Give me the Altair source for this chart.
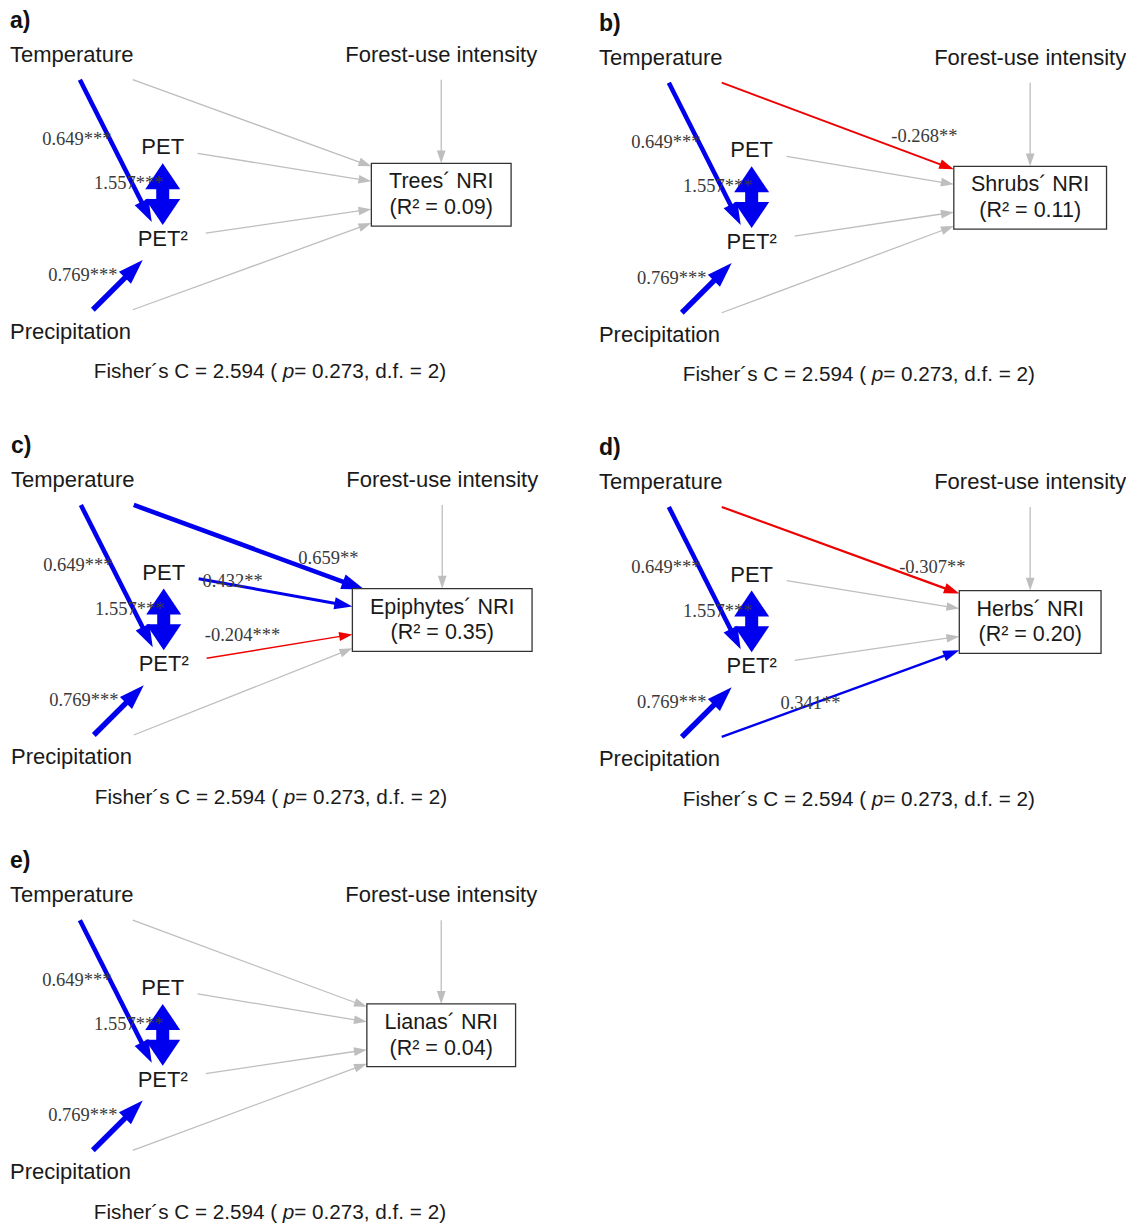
import math
import altair as alt
import pandas as pd

# ---------------- values ----------------
PANEL_LETTERS = ["a)", "b)", "c)", "d)", "e)"]
RESPONSES = ["Trees´ NRI", "Shrubs´ NRI", "Epiphytes´ NRI", "Herbs´ NRI", "Lianas´ NRI"]
R_SQUARED = ["0.09", "0.11", "0.35", "0.20", "0.04"]
FISHER_C = ["2.594", "2.594", "2.594", "2.594", "2.594"]
FISHER_P = ["0.273", "0.273", "0.273", "0.273", "0.273"]
FISHER_DF = ["2", "2", "2", "2", "2"]

PREDICTORS = ["Temperature", "PET", "PET²", "Precipitation", "Forest-use intensity"]

# paths among predictors (identical in every panel)
SHARED_FROM = ["Temperature", "Precipitation"]
SHARED_TO = ["PET²", "PET²"]
SHARED_COEF = [0.649, 0.769]
SHARED_SIG = ["***", "***"]
COVAR_COEF = 1.557          # PET <-> PET²
COVAR_SIG = "***"

# significant direct paths to the NRI
DIRECT_PANEL = ["b)", "c)", "c)", "c)", "d)", "d)"]
DIRECT_FROM = ["Temperature", "Temperature", "PET", "PET²", "Temperature", "Precipitation"]
DIRECT_COEF = [-0.268, 0.659, 0.432, -0.204, -0.307, 0.341]
DIRECT_SIG = ["**", "**", "**", "***", "**", "**"]

# ---------------- diagram layout (pixels, relative to each panel) ----------------
PANEL_ORIGIN_X = [0, 590, 1, 590, 0]
PANEL_ORIGIN_Y = [0, 3, 427, 429, 844]
BOX_WIDTH = [140, 153, 180, 142, 149]
BOX_CX, BOX_Y0, BOX_Y1 = 442, 164, 227
NODE_POS = {"Temperature": (10, 55), "Forest-use intensity": (442, 55), "PET": (163, 148),
            "PET²": (163, 240), "Precipitation": (10, 333)}
NODE_ALIGN = {"Temperature": "left", "Forest-use intensity": "center", "PET": "center",
              "PET²": "center", "Precipitation": "left"}
OUT_PORT = {"Temperature": (133, 80), "PET": (198, 154), "PET²": (206, 234),
            "Precipitation": (133, 311), "Forest-use intensity": (442, 80)}
IN_PORT_Y = {"Temperature": 167, "PET": 182, "PET²": 210, "Precipitation": 224}
SHARED_START = [(80, 80), (93, 311)]
SHARED_END = [(152, 223), (143, 261)]
SHARED_LABEL = [(77, 140), (83, 276)]
COVAR_X, COVAR_TOP, COVAR_BOT, COVAR_LABEL = 163, 164, 226, (129, 184)
DIRECT_LABEL_POS = [(336, 134), (328, 133), (232, 156), (242, 211), (344, 140), (222, 277)]
END_OVERRIDE = {("c)", "Temperature"): (364, 165)}
LETTER_POS = (10, 21)
FISHER_POS = (94, 374)

BLUE, RED, GRAY = "#0000ee", "#ee0000", "#bebebe"
SANS, SERIF = "Liberation Sans", "Liberation Serif"
FS_NODE, FS_BOX, FS_FISHER = 22, 21.5, 20.7

ARIAL = {"F": .611, "i": .222, "s": .5, "h": .556, "e": .556, "r": .333, "´": .333, " ": .278,
         "C": .722, "=": .584, ".": .278, "(": .333, ")": .333, "p": .556, ",": .278,
         "d": .556, "f": .278}


def tw(s, size):
    return sum(ARIAL.get(c, .556) for c in s) * size


lines, heads, dheads = [], [], []
rects, t_node_l, t_node_c, t_box, t_fish, t_serif, t_bold, t_ital = [], [], [], [], [], [], [], []


def arrow(x0, y0, x1, y1, color, w):
    L = 9 + 3 * w
    d = math.hypot(x1 - x0, y1 - y0)
    ux, uy = (x1 - x0) / d, (y1 - y0) / d
    back = L * 0.7
    lines.append(dict(x=x0, y=y0, x2=x1 - ux * back, y2=y1 - uy * back, color=color, w=w))
    ang = math.degrees(math.atan2(y1 - y0, x1 - x0)) % 360
    heads.append(dict(x=x1, y=y1, angle=ang, size=(2 * L) ** 2, color=color))


def fmt(c, sig):
    return f"{c:.3f}{sig}"


for i, letter in enumerate(PANEL_LETTERS):
    ox, oy = PANEL_ORIGIN_X[i], PANEL_ORIGIN_Y[i]
    t_bold.append(dict(x=ox + LETTER_POS[0], y=oy + LETTER_POS[1], text=letter))
    for n in PREDICTORS:
        px, py = NODE_POS[n]
        row = dict(x=ox + px, y=oy + py, text=n)
        (t_node_l if NODE_ALIGN[n] == "left" else t_node_c).append(row)
    bw = BOX_WIDTH[i]
    bx0 = BOX_CX - bw / 2
    rects.append(dict(x=ox + bx0, x2=ox + bx0 + bw, y=oy + BOX_Y0, y2=oy + BOX_Y1))
    t_box.append(dict(x=ox + BOX_CX, y=oy + 183, text=RESPONSES[i]))
    t_box.append(dict(x=ox + BOX_CX, y=oy + 209, text=f"(R² = {R_SQUARED[i]})"))

    # shared paths
    for k in range(len(SHARED_FROM)):
        (sx, sy), (ex, ey) = SHARED_START[k], SHARED_END[k]
        arrow(ox + sx, oy + sy, ox + ex, oy + ey, BLUE, 7.0 * abs(SHARED_COEF[k]))
        lx, ly = SHARED_LABEL[k]
        t_serif.append(dict(x=ox + lx, y=oy + ly, text=fmt(SHARED_COEF[k], SHARED_SIG[k])))
    # covariance double arrow
    hl = 26
    lines.append(dict(x=ox + COVAR_X, y=oy + COVAR_TOP + hl - 4, x2=ox + COVAR_X,
                      y2=oy + COVAR_BOT - hl + 4, color=BLUE, w=13))
    dheads.append(dict(x=ox + COVAR_X, y=oy + COVAR_TOP, angle=270, size=(2 * hl) ** 2, color=BLUE))
    dheads.append(dict(x=ox + COVAR_X, y=oy + COVAR_BOT, angle=90, size=(2 * hl) ** 2, color=BLUE))
    t_serif.append(dict(x=ox + COVAR_LABEL[0], y=oy + COVAR_LABEL[1], text=fmt(COVAR_COEF, COVAR_SIG)))

    # paths to the response
    for n in ["Temperature", "PET", "PET²", "Precipitation"]:
        sx, sy = OUT_PORT[n]
        ex, ey = END_OVERRIDE.get((letter, n), (bx0, IN_PORT_Y[n]))
        idx = [j for j in range(len(DIRECT_PANEL)) if DIRECT_PANEL[j] == letter and DIRECT_FROM[j] == n]
        if idx:
            j = idx[0]
            c = DIRECT_COEF[j]
            arrow(ox + sx, oy + sy, ox + ex, oy + ey, BLUE if c > 0 else RED, 7.0 * abs(c))
            lx, ly = DIRECT_LABEL_POS[j]
            t_serif.append(dict(x=ox + lx, y=oy + ly, text=fmt(c, DIRECT_SIG[j])))
        else:
            arrow(ox + sx, oy + sy, ox + ex, oy + ey, GRAY, 1.3)
    fx, fy = OUT_PORT["Forest-use intensity"]
    arrow(ox + fx, oy + fy, ox + BOX_CX, oy + BOX_Y0, GRAY, 1.3)

    # Fisher's C line
    p1 = f"Fisher´s C = {FISHER_C[i]} ("
    p3 = f"= {FISHER_P[i]}, d.f. = {FISHER_DF[i]})"
    x0 = ox + FISHER_POS[0]
    yy = oy + FISHER_POS[1]
    t_fish.append(dict(x=x0, y=yy, text=p1))
    xp = x0 + tw(p1 + " ", FS_FISHER)
    t_ital.append(dict(x=xp, y=yy, text="p"))
    t_fish.append(dict(x=xp + tw("p", FS_FISHER), y=yy, text=p3))

X_SCALE = alt.Scale(domain=[8, 1126], nice=False, zero=False)
Y_SCALE = alt.Scale(domain=[8, 1223], nice=False, zero=False, reverse=True)


def X(f="x"):
    return alt.X(f"{f}:Q", scale=X_SCALE, axis=None)


def Y(f="y"):
    return alt.Y(f"{f}:Q", scale=Y_SCALE, axis=None)


box_layer = alt.Chart(pd.DataFrame(rects)).mark_rect(
    fill="white", stroke="#333333", strokeWidth=1.3).encode(
    x=X(), x2="x2:Q", y=Y(), y2="y2:Q")

line_layer = alt.Chart(pd.DataFrame(lines)).mark_rule(strokeCap="butt").encode(
    x=X(), y=Y(), x2="x2:Q", y2="y2:Q",
    color=alt.Color("color:N", scale=None),
    strokeWidth=alt.StrokeWidth("w:Q", scale=None))

HEAD_SHAPE = "M0,0L-1,-0.34L-1,0.34Z"
DHEAD_SHAPE = "M0,0L-1,-0.673L-1,0.673Z"

head_layer = alt.Chart(pd.DataFrame(heads)).mark_point(
    shape=HEAD_SHAPE, filled=True, opacity=1, strokeWidth=0).encode(
    x=X(), y=Y(),
    angle=alt.Angle("angle:Q", scale=None),
    size=alt.Size("size:Q", scale=None),
    color=alt.Color("color:N", scale=None))

dhead_layer = alt.Chart(pd.DataFrame(dheads)).mark_point(
    shape=DHEAD_SHAPE, filled=True, opacity=1, strokeWidth=0).encode(
    x=X(), y=Y(),
    angle=alt.Angle("angle:Q", scale=None),
    size=alt.Size("size:Q", scale=None),
    color=alt.Color("color:N", scale=None))


def text_layer(rows, **kw):
    return alt.Chart(pd.DataFrame(rows)).mark_text(baseline="middle", **kw).encode(
        x=X(), y=Y(), text="text:N")


layers = [
    line_layer, head_layer, dhead_layer, box_layer,
    text_layer(t_node_l, align="left", font=SANS, fontSize=FS_NODE, color="#1a1a1a"),
    text_layer(t_node_c, align="center", font=SANS, fontSize=FS_NODE, color="#1a1a1a"),
    text_layer(t_box, align="center", font=SANS, fontSize=FS_BOX, color="#1a1a1a"),
    text_layer(t_fish, align="left", font=SANS, fontSize=FS_FISHER, color="#1a1a1a"),
    text_layer(t_ital, align="left", font=SANS, fontSize=FS_FISHER, fontStyle="italic", color="#1a1a1a"),
    text_layer(t_bold, align="left", font=SANS, fontSize=23, fontWeight="bold", color="#111111"),
    text_layer(t_serif, align="center", font=SERIF, fontSize=18.5, color="#3a3a3a"),
]

chart = alt.layer(*layers).properties(
    width=1118, height=1215, padding=0,
    autosize=alt.AutoSizeParams(type="fit", contains="padding"),
).configure_view(stroke=None)

chart.save("out.html", embed_options={"renderer": "svg", "actions": False})
